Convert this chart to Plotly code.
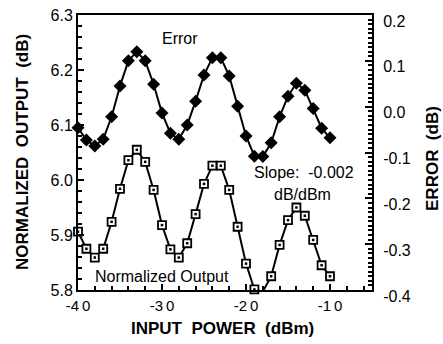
import plotly.graph_objects as go

input_power = list(range(-40, -9))  # -40 .. -10 dBm

error_db = [-0.046, -0.073, -0.086, -0.071, -0.022, 0.045, 0.100, 0.120, 0.100, 0.049,
            -0.014, -0.058, -0.071, -0.040, 0.012, 0.069, 0.107, 0.107, 0.067, 0.001,
            -0.064, -0.108, -0.109, -0.079, -0.022, 0.023, 0.051, 0.036, -0.004, -0.047,
            -0.068]

normalized_output = [5.906, 5.875, 5.859, 5.875, 5.924, 5.984, 6.036, 6.055, 6.033, 5.982,
                     5.918, 5.874, 5.859, 5.885, 5.938, 5.993, 6.026, 6.026, 5.982, 5.915,
                     5.848, 5.801, 5.797, 5.825, 5.882, 5.927, 5.950, 5.935, 5.891, 5.845,
                     5.825]

x_ticks = [-40, -30, -20, -10]
x_tick_text = ["-4\u20090", "-3\u20090", "-2\u20090", "-1\u20090"]
left_ticks = [5.8, 5.9, 6.0, 6.1, 6.2, 6.3]
left_tick_text = ["5.8", "5.9", "6.0", "6.1", "6.2", "6.3"]
right_ticks = [-0.4, -0.3, -0.2, -0.1, 0.0, 0.1, 0.2]
right_tick_text = ["-0.4", "-0.3", "-0.2", "-0.1", "0.0", "0.1", "0.2"]

FONT = "Liberation Sans, Arial, sans-serif"

fig = go.Figure()

fig.add_trace(go.Scatter(
    x=input_power, y=normalized_output, mode="lines+markers",
    line=dict(color="black", width=2),
    marker=dict(symbol="square", size=8, color="white", line=dict(width=1.8, color="black")),
    cliponaxis=False, showlegend=False, yaxis="y"))

fig.add_trace(go.Scatter(
    x=input_power, y=normalized_output, mode="markers",
    marker=dict(symbol="square", size=2.5, color="black", line=dict(width=0)),
    cliponaxis=False, showlegend=False, yaxis="y", hoverinfo="skip"))

fig.add_trace(go.Scatter(
    x=input_power, y=error_db, mode="lines+markers",
    line=dict(color="black", width=2),
    marker=dict(symbol="diamond", size=10, color="black"),
    cliponaxis=False, showlegend=False, yaxis="y2"))

fig.update_layout(
    width=443, height=344,
    margin=dict(l=78, r=71, t=15, b=54, autoexpand=False),
    plot_bgcolor="white", paper_bgcolor="white",
    font=dict(family=FONT, color="black", size=14),
    xaxis=dict(
        range=[-40, -5], tickvals=x_ticks, ticktext=x_tick_text,
        ticks="inside", ticklen=6, tickwidth=1.5, tickcolor="black",
        minor=dict(dtick=2, tick0=-40, ticks="inside", ticklen=4, tickwidth=1.5, tickcolor="black"),
        showline=True, linecolor="black", linewidth=2, mirror=True,
        showgrid=False, zeroline=False, automargin=False,
        tickfont=dict(size=15, family=FONT),
        ticklabelstandoff=1,
    ),
    yaxis=dict(
        range=[5.8, 6.3], tickvals=left_ticks, ticktext=left_tick_text,
        ticks="inside", ticklen=6, tickwidth=1.5, tickcolor="black",
        minor=dict(dtick=0.02, tick0=5.8, ticks="inside", ticklen=4, tickwidth=1.5, tickcolor="black"),
        showline=True, linecolor="black", linewidth=2,
        showgrid=False, zeroline=False, automargin=False,
        tickfont=dict(size=16, family=FONT),
    ),
    yaxis2=dict(
        range=[-0.4, 0.2], tickvals=right_ticks, ticktext=right_tick_text,
        overlaying="y", side="right",
        ticks="inside", ticklen=7, tickwidth=1.5, tickcolor="black",
        minor=dict(dtick=0.01, tick0=-0.4, ticks="inside", ticklen=4, tickwidth=1.5, tickcolor="black"),
        showline=True, linecolor="black", linewidth=2,
        showgrid=False, zeroline=False, automargin=False,
        tickfont=dict(size=16, family=FONT),
        ticklabelstandoff=6, ticklabelshift=6,
    ),
    annotations=[
        dict(text="Error", x=-27.8, y=6.258, xref="x", yref="y", showarrow=False,
             font=dict(size=16, family=FONT)),
        dict(text="Slope:  -0.002", x=-13.1, y=6.013, xref="x", yref="y", showarrow=False,
             font=dict(size=16, family=FONT)),
        dict(text="dB/dBm", x=-13.3, y=5.973, xref="x", yref="y", showarrow=False,
             font=dict(size=16, family=FONT)),
        dict(text="Normalized Output", x=-30.0, y=5.825, xref="x", yref="y", showarrow=False,
             font=dict(size=16, family=FONT)),
        dict(text="<b>NORMALIZED  OUTPUT  (dB)</b>", x=-0.187, y=0.502, xref="paper", yref="paper",
             xanchor="center", yanchor="middle",
             textangle=-90, showarrow=False, font=dict(size=17, family=FONT)),
        dict(text="<b>ERROR  (dB)</b>", x=1.204, y=0.48, xref="paper", yref="paper",
             xanchor="center", yanchor="middle",
             textangle=-90, showarrow=False, font=dict(size=17, family=FONT)),
        dict(text="<b>INPUT  POWER  (dBm)</b>", x=0.493, y=-0.14, xref="paper", yref="paper",
             xanchor="center", yanchor="middle",
             showarrow=False, font=dict(size=17, family=FONT)),
    ],
)

fig.write_html("out.html")
